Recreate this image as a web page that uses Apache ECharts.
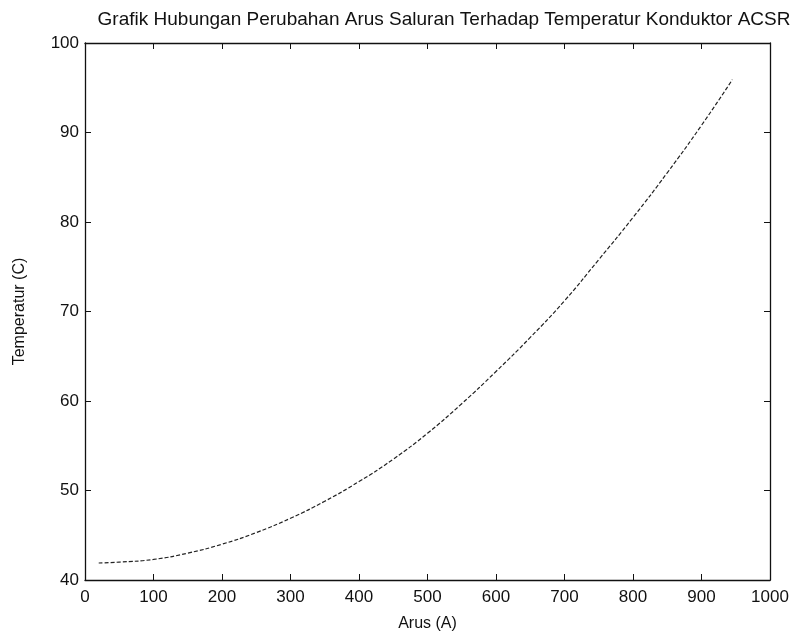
<!DOCTYPE html>
<html>
<head>
<meta charset="utf-8">
<script src="https://cdn.jsdelivr.net/npm/echarts@6/dist/echarts.min.js"></script>
<style>
    html, body { margin: 0; padding: 0; background: #fff; }
    #chart { width: 804px; height: 640px; }
</style>
</head>
<body>
<div id="chart"></div>
<script>
'use strict';

// arus (A) vs temperatur (C)
const arus = [20, 50, 100, 150, 200, 250, 300, 350, 400, 450, 500, 550, 600, 650, 700, 750, 800, 850, 900, 945];
const temperatur = [41.9, 42.0, 42.3, 43.0, 44.0, 45.3, 46.9, 48.8, 51.0, 53.5, 56.4, 59.7, 63.3, 67.1, 71.2, 75.8, 80.5, 85.5, 90.8, 95.9];

const xTicks = [0, 100, 200, 300, 400, 500, 600, 700, 800, 900, 1000];
const yTicks = [40, 50, 60, 70, 80, 90, 100];

const font = 'Liberation Sans';
const ink = '#111';

const boxAxis = (pos, lo, hi, step, showLabels) => ({
    type: 'value',
    position: pos,
    min: lo,
    max: hi,
    interval: step,
    axisLine: { show: true, onZero: false, lineStyle: { color: ink, width: 1.3 } },
    axisTick: { show: true, inside: true, length: 6, lineStyle: { color: ink } },
    axisLabel: {
        show: showLabels,
        color: ink,
        fontFamily: font,
        fontSize: 17,
        margin: 9,
        formatter: (v) => String(v)
    },
    splitLine: { show: false }
});

document.addEventListener('DOMContentLoaded', () => {
    const chart = echarts.init(document.getElementById('chart'));

    const xBottom = boxAxis('bottom', xTicks[0], xTicks[xTicks.length - 1], 100, true);
    xBottom.name = 'Arus (A)';
    xBottom.nameLocation = 'middle';
    xBottom.nameGap = 36;
    xBottom.nameTextStyle = { color: ink, fontFamily: font, fontSize: 16 };

    const yLeft = boxAxis('left', yTicks[0], yTicks[yTicks.length - 1], 10, true);
    yLeft.name = 'Temperatur (C)';
    yLeft.nameLocation = 'middle';
    yLeft.nameGap = 57;
    yLeft.nameTextStyle = { color: ink, fontFamily: font, fontSize: 16 };
    yLeft.axisLabel.margin = 6;

    chart.setOption({
        animation: false,
        backgroundColor: '#fff',
        title: {
            text: 'Grafik Hubungan Perubahan Arus Saluran Terhadap Temperatur Konduktor ACSR',
            left: 439,
            textAlign: 'center',
            top: 5,
            textStyle: { color: ink, fontFamily: font, fontSize: 19, fontWeight: 'normal' }
        },
        grid: { left: 85, right: 34, top: 43, bottom: 60 },
        xAxis: [
            xBottom,
            boxAxis('top', xTicks[0], xTicks[xTicks.length - 1], 100, false)
        ],
        yAxis: [
            yLeft,
            boxAxis('right', yTicks[0], yTicks[yTicks.length - 1], 10, false)
        ],
        series: [{
            type: 'line',
            xAxisIndex: 0,
            yAxisIndex: 0,
            data: arus.map((a, i) => [a, temperatur[i]]),
            smooth: true,
            showSymbol: false,
            lineStyle: { color: '#222', width: 1.2, type: [4, 2] }
        }]
    });
});
</script>
</body>
</html>
